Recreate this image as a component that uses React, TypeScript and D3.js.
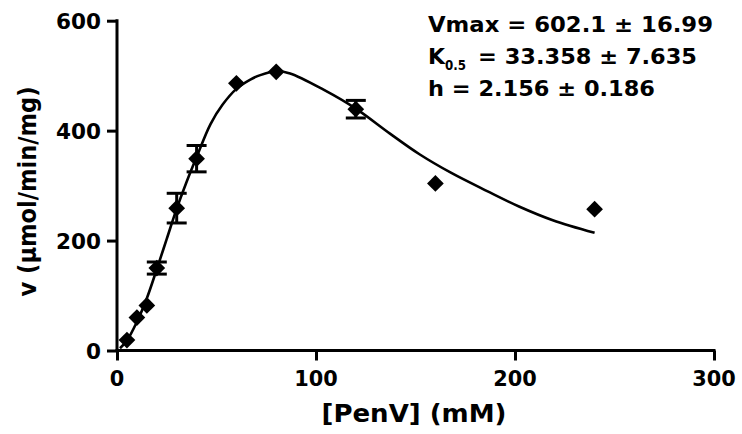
import * as d3 from "d3";
import { useEffect, useRef } from "react";

// measured points: [PenV] (mM) vs v (µmol/min/mg)
const conc = [5, 10, 15, 20, 30, 40, 60, 80, 120, 160, 240];
const rate = [19, 60, 82, 150, 259, 349, 486, 507, 439, 304, 257];
const errs = [0, 0, 0, 11, 27, 24, 0, 0, 16, 0, 0];

// fitted curve
const fitX = [1.5, 5, 10, 15, 20, 25, 30, 35, 40, 47, 53, 60, 67, 72, 80, 87, 104, 120, 137, 152, 168, 186, 202, 219, 240];
const fitY = [4, 18, 52, 95, 148, 203, 258, 307, 352, 412, 447, 476, 493, 501, 508, 504, 474, 440, 395, 357, 323, 290, 262, 237, 214];

const xTicks = [0, 100, 200, 300];
const yTicks = [0, 200, 400, 600];

const statLines = ["Vmax = 602.1 ± 16.99", "= 33.358 ± 7.635", "h = 2.156 ± 0.186"];

const W = 742;
const H = 434;
const FONT = "'DejaVu Sans', Verdana, sans-serif";

export default function App() {
    const ref = useRef<SVGSVGElement | null>(null);

    useEffect(() => {
        if (!ref.current) return;
        const svg = d3.select(ref.current);
        svg.selectAll("*").remove();

        const x = d3.scaleLinear().domain([0, 300]).range([117, 714]);
        const y = d3.scaleLinear().domain([0, 600]).range([350.5, 20.7]);

        const g = svg.append("g").attr("font-family", FONT).attr("font-weight", "bold");

        // axes
        const xAxis = g.append("g")
            .attr("transform", `translate(0,${y(0)})`)
            .call(d3.axisBottom(x).tickValues(xTicks).tickSize(10).tickFormat(() => ""));
        const yAxis = g.append("g")
            .attr("transform", `translate(${x(0)},0)`)
            .call(d3.axisLeft(y).tickValues(yTicks).tickSize(10).tickFormat(() => ""));
        [xAxis, yAxis].forEach(a => {
            a.select(".domain").remove();
            a.selectAll("line").attr("stroke", "#000").attr("stroke-width", 3);
        });
        g.append("line")
            .attr("x1", x(0) - 1.5).attr("x2", x(300) + 1.5)
            .attr("y1", y(0)).attr("y2", y(0))
            .attr("stroke", "#000").attr("stroke-width", 3);
        g.append("line")
            .attr("x1", x(0)).attr("x2", x(0))
            .attr("y1", y(0) + 1.5).attr("y2", y(600) - 1.5)
            .attr("stroke", "#000").attr("stroke-width", 3);

        // tick labels
        g.selectAll("text.xt")
            .data(xTicks)
            .join("text")
            .attr("class", "xt")
            .attr("x", d => x(d))
            .attr("y", 385.5)
            .attr("text-anchor", "middle")
            .attr("font-size", 22)
            .attr("textLength", d => String(d).length * 14.5)
            .attr("lengthAdjust", "spacingAndGlyphs")
            .text(d => d);

        g.selectAll("text.yt")
            .data(yTicks)
            .join("text")
            .attr("class", "yt")
            .attr("x", 101)
            .attr("y", d => y(d) + 8)
            .attr("text-anchor", "end")
            .attr("font-size", 22)
            .attr("textLength", d => String(d).length * 15)
            .attr("lengthAdjust", "spacingAndGlyphs")
            .text(d => d);

        // axis titles
        g.append("text")
            .attr("x", 321.5)
            .attr("y", 421.5)
            .attr("font-size", 25)
            .attr("textLength", 185)
            .attr("lengthAdjust", "spacingAndGlyphs")
            .text("[PenV] (mM)");

        g.append("text")
            .attr("transform", "translate(36,296.5) rotate(-90)")
            .attr("font-size", 24)
            .attr("textLength", 210)
            .attr("lengthAdjust", "spacingAndGlyphs")
            .text("v (μmol/min/mg)");

        // fitted curve
        const line = d3.line<number>()
            .x((_, i) => x(fitX[i]))
            .y(d => y(d))
            .curve(d3.curveCatmullRom.alpha(0.5));
        g.append("path")
            .attr("d", line(fitY) ?? "")
            .attr("fill", "none")
            .attr("stroke", "#000")
            .attr("stroke-width", 2.6);

        // error bars
        const eb = g.append("g").attr("stroke", "#000").attr("stroke-width", 3);
        conc.forEach((c, i) => {
            const e = errs[i];
            if (!e) return;
            const cx = x(c);
            eb.append("line").attr("x1", cx).attr("x2", cx).attr("y1", y(rate[i] - e)).attr("y2", y(rate[i] + e));
            [rate[i] - e, rate[i] + e].forEach(v => {
                eb.append("line").attr("x1", cx - 10).attr("x2", cx + 10).attr("y1", y(v)).attr("y2", y(v));
            });
        });

        // diamonds
        const sym = d3.symbol().type(d3.symbolSquare).size(140);
        g.selectAll("path.pt")
            .data(conc)
            .join("path")
            .attr("class", "pt")
            .attr("d", sym() ?? "")
            .attr("transform", (d, i) => `translate(${x(d)},${y(rate[i])}) rotate(45)`)
            .attr("fill", "#000");

        // fit parameters
        const st = g.append("g").attr("font-size", 22);
        st.append("text").attr("x", 428).attr("y", 31.5)
            .attr("textLength", 285).attr("lengthAdjust", "spacingAndGlyphs")
            .text(statLines[0]);
        st.append("text").attr("x", 428).attr("y", 63.5).text("K");
        st.append("text").attr("x", 445).attr("y", 69.5).attr("font-size", 14)
            .attr("textLength", 21).attr("lengthAdjust", "spacingAndGlyphs")
            .text("0.5");
        st.append("text").attr("x", 478).attr("y", 63.5)
            .attr("textLength", 219).attr("lengthAdjust", "spacingAndGlyphs")
            .text(statLines[1]);
        st.append("text").attr("x", 428).attr("y", 95.5)
            .attr("textLength", 227).attr("lengthAdjust", "spacingAndGlyphs")
            .text(statLines[2]);
    }, []);

    return (
        <svg
            ref={ref}
            width={W}
            height={H}
            style={{ position: "absolute", left: 0, top: 0, background: "#fff" }}
        />
    );
}
